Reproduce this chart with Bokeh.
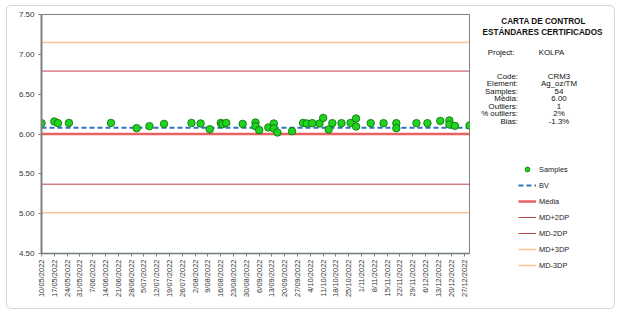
import math
import pandas as pd
from bokeh.plotting import figure
from bokeh.layouts import row
from bokeh.models import (Label, Legend, LegendItem, FixedTicker, Range1d,
                          NumeralTickFormatter, InlineStyleSheet)
from bokeh.embed import file_html
from bokeh.resources import INLINE

# ---------------- data ----------------
sample_dates = [
    "2022-05-10", "2022-05-17", "2022-05-19", "2022-05-25", "2022-06-17",
    "2022-07-01", "2022-07-08", "2022-07-16", "2022-07-31", "2022-08-05",
    "2022-08-10", "2022-08-16", "2022-08-17", "2022-08-19", "2022-08-28",
    "2022-09-04", "2022-09-04", "2022-09-06", "2022-09-11", "2022-09-14",
    "2022-09-14", "2022-09-16", "2022-09-24", "2022-09-30", "2022-10-02",
    "2022-10-05", "2022-10-09", "2022-10-11", "2022-10-14", "2022-10-16",
    "2022-10-21", "2022-10-26", "2022-10-29", "2022-10-29", "2022-11-06",
    "2022-11-13", "2022-11-20", "2022-11-20", "2022-12-01", "2022-12-07",
    "2022-12-14", "2022-12-19", "2022-12-19", "2022-12-22", "2022-12-30",
]
sample_values = [
    6.136, 6.157, 6.136, 6.139, 6.139,
    6.073, 6.098, 6.127, 6.139, 6.132,
    6.060, 6.139, 6.123, 6.139, 6.127,
    6.144, 6.098, 6.048, 6.082, 6.132,
    6.069, 6.019, 6.035, 6.139, 6.132,
    6.136, 6.132, 6.202, 6.057, 6.136,
    6.136, 6.139, 6.195, 6.094, 6.136,
    6.136, 6.136, 6.073, 6.136, 6.136,
    6.164, 6.170, 6.119, 6.102, 6.107,
]
x_tick_labels = [
    "10/05/2022", "17/05/2022", "24/05/2022", "31/05/2022", "7/06/2022",
    "14/06/2022", "21/06/2022", "28/06/2022", "5/07/2022", "12/07/2022",
    "19/07/2022", "26/07/2022", "2/08/2022", "9/08/2022", "16/08/2022",
    "23/08/2022", "30/08/2022", "6/09/2022", "13/09/2022", "20/09/2022",
    "27/09/2022", "4/10/2022", "11/10/2022", "18/10/2022", "25/10/2022",
    "1/11/2022", "8/11/2022", "15/11/2022", "22/11/2022", "29/11/2022",
    "6/12/2022", "13/12/2022", "20/12/2022", "27/12/2022",
]
y_ticks = [4.5, 5.0, 5.5, 6.0, 6.5, 7.0, 7.5]
x_start = "2022-05-10"
x_end = "2022-12-30"

bv_value = 6.08
media_value = 6.00
md_plus_2dp = 6.79
md_minus_2dp = 5.37
md_plus_3dp = 7.15
md_minus_3dp = 5.01

title_lines = ["CARTA DE CONTROL", "ESTÁNDARES CERTIFICADOS"]
project_label, project_value = "Project:", "KOLPA"
info_labels = ["Code:", "Element:", "Samples:", "Média:", "Outliers:", "% outliers:", "Bias:"]
info_values = ["CRM3", "Ag_oz/TM", "54", "6.00", "1", "2%", "-1.3%"]

# ---------------- styles ----------------
FONT = "Liberation Sans"
W, H = 624, 314
MAIN_W = 471
LEFT, RIGHT, TOP, BOTTOM = 41, 2, 14, 61

sample_style = dict(size=7.5, fill_color="#1fd41f", line_color="#0b6b0b", line_width=0.8)
bv_style = dict(line_color="#2e75b6", line_width=2, line_dash="5 3")
media_style = dict(line_color="#e53a3a", line_width=2.5, line_alpha=0.8)
dp2_style = dict(line_color="#c0404e", line_width=1)
dp3_style = dict(line_color="#f9c49a", line_width=1.5)

# ---------------- main chart ----------------
xs = pd.Timestamp(x_start)
xe = pd.Timestamp(x_end)

p = figure(width=MAIN_W, height=H, output_backend="svg", toolbar_location=None,
           x_axis_type="datetime",
           x_range=Range1d(xs, xe), y_range=Range1d(y_ticks[0], y_ticks[-1]),
           min_border_left=LEFT, min_border_right=RIGHT,
           min_border_top=TOP, min_border_bottom=BOTTOM)
p.frame_align = False
p.background_fill_color = "white"
p.border_fill_color = "white"
p.outline_line_color = "#7f7f7f"
p.outline_line_width = 1
p.xgrid.grid_line_color = None
p.ygrid.grid_line_color = None

tick_ts = pd.to_datetime(x_tick_labels, format="%d/%m/%Y")
tick_ms = [int(t.value // 10**6) for t in tick_ts]
p.xaxis.ticker = FixedTicker(ticks=tick_ms)
p.xaxis.major_label_overrides = {ms: lab for ms, lab in zip(tick_ms, x_tick_labels)}
p.xaxis.major_label_orientation = math.pi / 2
p.xaxis.major_label_text_font = FONT
p.xaxis.major_label_text_font_size = "7.5px"
p.xaxis.major_label_text_color = "#333333"
p.xaxis.major_label_standoff = 3
p.xaxis.axis_line_color = "#6f7f6f"
p.xaxis.axis_line_width = 1.5
p.xaxis.major_tick_line_color = "#7f7f7f"
p.xaxis.major_tick_out = 3
p.xaxis.major_tick_in = 0
p.xaxis.minor_tick_line_color = None

p.yaxis.ticker = FixedTicker(ticks=y_ticks)
p.yaxis.formatter = NumeralTickFormatter(format="0.00")
p.yaxis.major_label_text_font = FONT
p.yaxis.major_label_text_font_size = "8px"
p.yaxis.major_label_text_color = "#333333"
p.yaxis.major_label_standoff = 4
p.yaxis.axis_line_color = "#808080"
p.yaxis.axis_line_width = 2
p.yaxis.major_tick_line_color = "#808080"
p.yaxis.major_tick_out = 3
p.yaxis.major_tick_in = 0
p.yaxis.minor_tick_line_color = None

line_x = [xs, xe]
p.line(line_x, [md_plus_3dp] * 2, **dp3_style)
p.line(line_x, [md_minus_3dp] * 2, **dp3_style)
p.line(line_x, [md_plus_2dp] * 2, **dp2_style)
p.line(line_x, [md_minus_2dp] * 2, **dp2_style)
p.line(line_x, [media_value] * 2, **media_style)
p.line(line_x, [bv_value] * 2, **bv_style)
p.scatter(pd.to_datetime(sample_dates), sample_values, **sample_style)

# ---------------- right info panel (page-pixel coordinates) ----------------
q = figure(width=W - MAIN_W, height=H, output_backend="svg", toolbar_location=None,
           x_range=Range1d(MAIN_W, W), y_range=Range1d(H, 0),
           x_axis_type=None, y_axis_type=None,
           min_border_left=0, min_border_right=0, min_border_top=0, min_border_bottom=0)
q.frame_align = False
q.outline_line_color = None
q.background_fill_color = "white"
q.border_fill_color = "white"
q.xgrid.grid_line_color = None
q.ygrid.grid_line_color = None

# legend keys: renderers holding no visible point, styled like the chart series
nan = float("nan")
k_s = q.scatter([nan], [nan], **sample_style)
k_bv = q.line([nan], [nan], **bv_style)
k_med = q.line([nan], [nan], **media_style)
k_p2 = q.line([nan], [nan], **dp2_style)
k_m2 = q.line([nan], [nan], **dp2_style)
k_p3 = q.line([nan], [nan], **dp3_style)
k_m3 = q.line([nan], [nan], **dp3_style)

legend = Legend(items=[
    LegendItem(label="Samples", renderers=[k_s]),
    LegendItem(label="BV", renderers=[k_bv]),
    LegendItem(label="Média", renderers=[k_med]),
    LegendItem(label="MD+2DP", renderers=[k_p2]),
    LegendItem(label="MD-2DP", renderers=[k_m2]),
    LegendItem(label="MD+3DP", renderers=[k_p3]),
    LegendItem(label="MD-3DP", renderers=[k_m3]),
], location=(518 - MAIN_W, H - 271), padding=0, margin=0, spacing=4,
   glyph_width=18, glyph_height=12, label_height=12, label_standoff=3,
   label_text_font=FONT, label_text_font_size="7.4px", label_text_color="#222222",
   border_line_color=None, background_fill_alpha=0)
q.add_layout(legend, "center")

def add_text(xa, ya, text, align="left", bold=False, size="7.9px"):
    q.add_layout(Label(x=xa, y=ya, text=text, text_align=align, text_baseline="middle",
                       text_font=FONT, text_font_size=size,
                       text_font_style="bold" if bold else "normal",
                       text_color="#111111"))

add_text(543, 21, title_lines[0], align="center", bold=True, size="8.2px")
add_text(542, 32.3, title_lines[1], align="center", bold=True, size="8.2px")
add_text(514, 52.3, project_label, align="right")
add_text(551, 52.3, project_value, align="center")
row0, step = 76.0, 7.45
for i, (lab, val) in enumerate(zip(info_labels, info_values)):
    yy = row0 + i * step
    add_text(517.5, yy, lab, align="right")
    add_text(558.5, yy, val, align="center")

layout = row(p, q, spacing=0)
layout.stylesheets = [InlineStyleSheet(css="""
:host { position: relative; }
:host::after { content: ""; position: absolute; left: 6px; top: 5px; width: 609px; height: 304px;
  border: 1px solid #d4d4d4; border-radius: 5px; pointer-events: none; box-sizing: border-box; }
""")]

open("out.html", "w").write(file_html(layout, INLINE))
